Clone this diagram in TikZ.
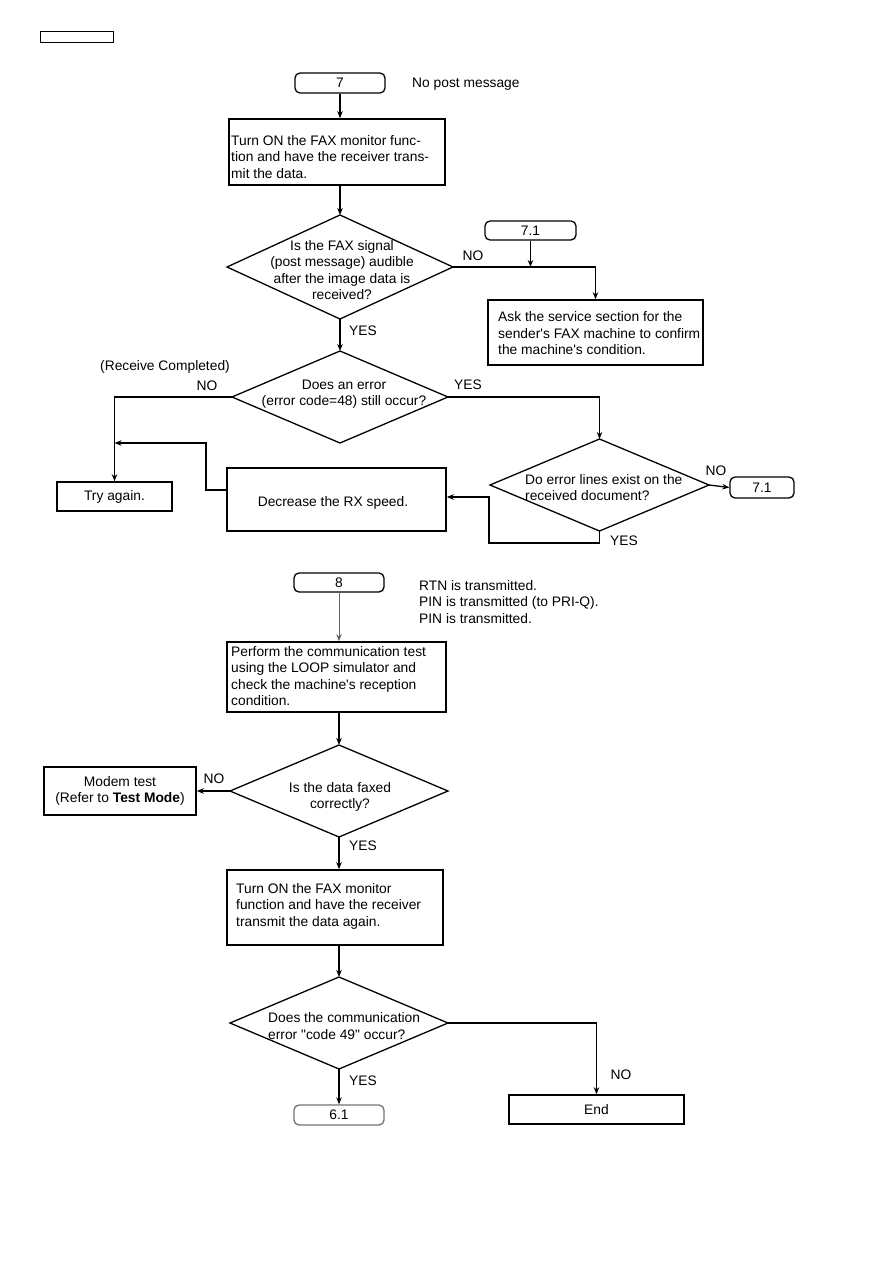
\documentclass[tikz,border=0pt]{standalone}
\usepackage{fontspec}
\setmainfont{Liberation Sans}
\usetikzlibrary{shapes.geometric,arrows.meta}
\begin{document}
\begin{tikzpicture}[x=1pt,y=-1pt,
  every node/.style={font=\fontsize{13.8}{16.5}\selectfont, inner sep=0pt},
  box/.style={draw, line width=1.6pt},
  cbox/.style={draw, line width=1.6pt, align=center},
  term/.style={draw, rounded corners=5pt, line width=1.3pt, align=center},
  dia/.style={diamond, draw, line width=1.3pt, inner sep=0pt, outer sep=0pt},
  arr/.style={line width=1.3pt, -{Stealth[length=7pt,width=5.5pt]}},
  txt/.style={align=left, anchor=west}
]
\useasboundingbox (0,0) rectangle (893,1263);

% header rectangle
\node[draw, line width=1pt, minimum width=73pt, minimum height=11pt] (hdr) at (76.5,37.5) {};

% ---------- section 7 ----------
\node[term, minimum width=90pt, minimum height=20pt] (t7) at (340,83) {7};
\node[txt] (np) at (412,84) {No post message};

\node[box, minimum width=216pt, minimum height=66pt] (b1) at (337,152) {};
\node[txt] (b1t) at (231,157) {Turn ON the FAX monitor func-\\tion and have the receiver trans-\\mit the data.};

\node[dia, minimum width=226pt, minimum height=104pt] (d1) at (340,267) {};
\node[align=center] (d1t) at (342,270) {Is the FAX signal\\(post message) audible\\after the image data is\\received?};

\node[term, minimum width=91pt, minimum height=19pt] (t71) at (530.5,230.5) {7.1};
\node[box, minimum width=215pt, minimum height=65pt] (ask) at (595.5,332.5) {};
\node[txt] (askt) at (498,333.5) {Ask the service section for the\\sender\textquotesingle s FAX machine to confirm\\the machine\textquotesingle s condition.};

\node[dia, minimum width=216pt, minimum height=92pt] (d2) at (340,397) {};
\node[align=center] (d2t) at (344,394) {Does an error\\(error code=48) still occur?};

\node (rc) at (165,367) {(Receive Completed)};

\node[cbox, minimum width=115pt, minimum height=29pt] (try) at (114.5,496.5) {Try again.};
\node[cbox, minimum width=219pt, minimum height=63pt] (dec) at (336.5,499.5) {};
\node (dect) at (333,503) {Decrease the RX speed.};

\node[dia, minimum width=219pt, minimum height=92pt] (d3) at (599.5,485) {};
\node[txt] (d3t) at (525,487.5) {Do error lines exist on the\\received document?};

\node[term, minimum width=64pt, minimum height=21pt] (t71b) at (762,487.5) {7.1};

% labels section 7
\node (l1) at (473,256) {NO};
\node (l2) at (363,331) {YES};
\node (l3) at (207,386) {NO};
\node (l4) at (468,385) {YES};
\node (l5) at (716,471) {NO};
\node (l6) at (624,541) {YES};

% connectors section 7
\draw[arr] (t7.south) -- (t7.south |- b1.north);
\draw[arr] (d1.north |- b1.south) -- (d1.north);
\draw[arr] (d1.east) -| (ask.north);
\draw[arr] (t71.south) -- (t71.south |- d1.east);
\draw[arr] (d1.south) -- (d2.north);
\draw[arr] (d2.west) -| (try.north);
\coordinate (m1) at (206,443);
\draw[arr] ([yshift=9.5pt]dec.west) -| (m1) -- (m1 -| try.north);
\draw[arr] (d2.east) -| (d3.north);
\draw[arr] (d3.east) -- (t71b.west);
\coordinate (m2) at (489,543);
\draw[arr] (d3.south) |- (m2) |- ([yshift=2.5pt]dec.east);

% ---------- section 8 ----------
\node[term, minimum width=90pt, minimum height=19pt] (t8) at (339,582.5) {8};
\node[txt] (rtn) at (419,602) {RTN is transmitted.\\PIN is transmitted (to PRI-Q).\\PIN is transmitted.};

\node[box, minimum width=219pt, minimum height=70pt] (perf) at (336.5,677) {};
\node[txt] (perft) at (231,676) {Perform the communication test\\using the LOOP simulator and\\check the machine\textquotesingle s reception\\condition.};

\node[dia, minimum width=218pt, minimum height=92pt] (d4) at (339,791) {};
\node[align=center] (d4t) at (340,797) {Is the data faxed\\correctly?};

\node[cbox, minimum width=152pt, minimum height=48pt] (modem) at (120,791) {Modem test\\(Refer to \textbf{Test Mode})};

\node[box, minimum width=216pt, minimum height=75pt] (b2) at (335,907.5) {};
\node[txt] (b2t) at (236,906) {Turn ON the FAX monitor\\function and have the receiver\\transmit the data again.};

\node[dia, minimum width=218pt, minimum height=92pt] (d5) at (339,1023) {};
\node[txt] (d5t) at (268,1026) {Does the communication\\error \textquotedbl code 49\textquotedbl\ occur?};

\node[term, draw=black!55, minimum width=90pt, minimum height=20pt] (t61) at (339,1115) {6.1};
\node[cbox, minimum width=175pt, minimum height=29pt] (endb) at (596.5,1109.5) {End};

\node (l7) at (214,779) {NO};
\node (l8) at (363,846) {YES};
\node (l9) at (363,1081) {YES};
\node (l10) at (621,1075) {NO};

\draw[line width=0.8pt, black!60, -{Stealth[length=7pt,width=5.5pt]}] (t8.south) -- (t8.south |- perf.north);
\draw[arr] (d4.north |- perf.south) -- (d4.north);
\draw[arr] (d4.west) -- (modem.east);
\draw[arr] (d4.south) -- (d4.south |- b2.north);
\draw[arr] (d5.north |- b2.south) -- (d5.north);
\draw[arr] (d5.south) -- (t61.north);
\draw[arr] (d5.east) -| (endb.north);
\end{tikzpicture}
\end{document}
